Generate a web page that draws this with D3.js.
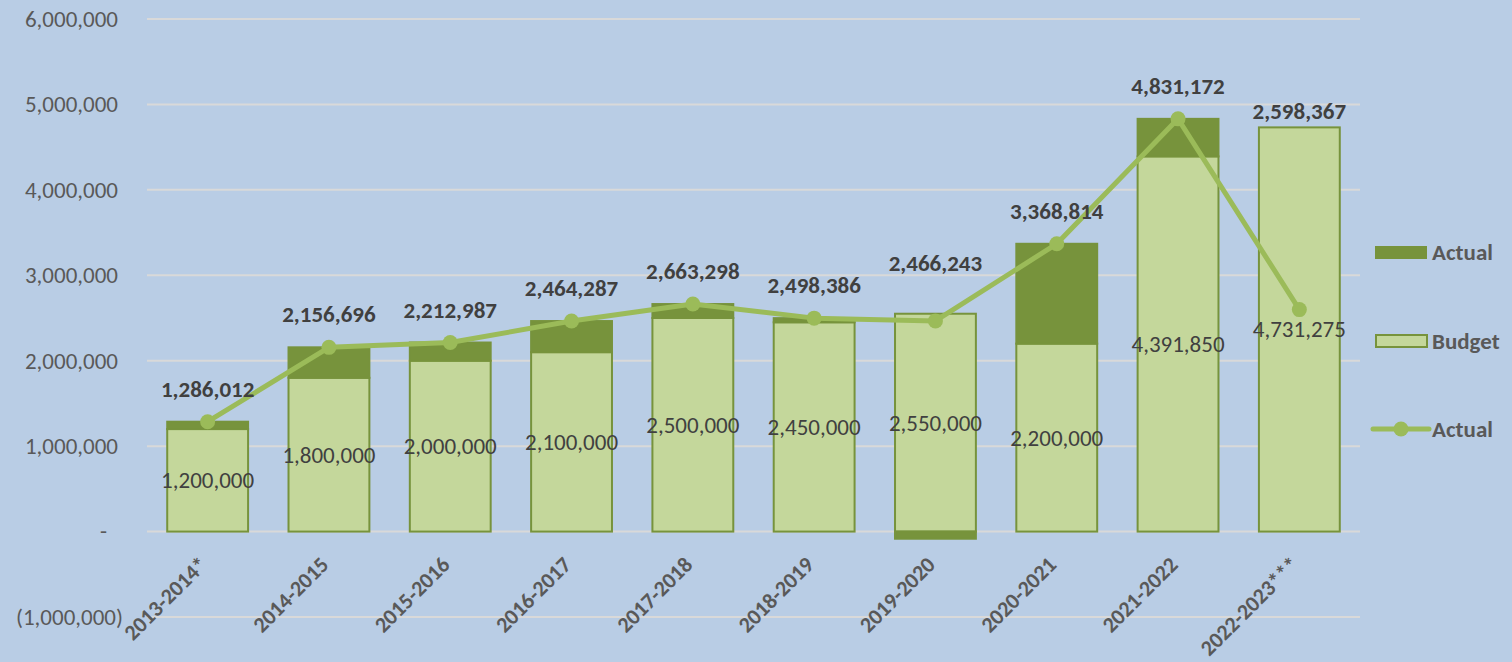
<!DOCTYPE html>
<meta charset="utf-8">

<!-- Load d3.js -->
<script src="https://d3js.org/d3.v7.min.js"></script>

<style>
  body { margin: 0; background: #b9cde5; }
  text { font-family: Carlito, Lato, "Open Sans", sans-serif; }
</style>

<svg id="chart" width="1512" height="662"></svg>
<script>

    // Data
    const years = ["2013-2014*", "2014-2015", "2015-2016", "2016-2017", "2017-2018",
                   "2018-2019", "2019-2020", "2020-2021", "2021-2022", "2022-2023***"];
    const budget = [1200000, 1800000, 2000000, 2100000, 2500000, 2450000, 2550000, 2200000, 4391850, 4731275];
    const actual = [1286012, 2156696, 2212987, 2464287, 2663298, 2498386, 2466243, 3368814, 4831172, 2598367];
    // stacked "Actual" bar segment = difference to budget (none shown for the partial year)
    const variance = [86012, 356696, 212987, 364287, 163298, 48386, -83757, 1168814, 439322, 0];
    const yTicks = [-1000000, 0, 1000000, 2000000, 3000000, 4000000, 5000000, 6000000];

    // label nudges (px above the line point), default 33
    const labelLift = { "2019-2020": 58 };
    const labelOnBarTop = { "2022-2023***": 16 };

    const svg = d3.select("#chart");

    const rows = years.map((y, i) => ({ year: y, budget: budget[i], actual: actual[i], variance: variance[i] }));

    // Scales
    const x = d3.scaleBand().domain(years).range([147, 1360]).paddingInner(1 / 3).paddingOuter(1 / 6);
    const y = d3.scaleLinear().domain([-1000000, 6000000]).range([617, 19]);

    const cx = d => x(d.year) + x.bandwidth() / 2;
    const fs = "23px";

    // gridlines
    svg.append("g")
      .selectAll("line")
      .data(yTicks)
      .join("line")
        .attr("x1", 147).attr("x2", 1360)
        .attr("y1", d => y(d)).attr("y2", d => y(d))
        .attr("stroke", "#d9d9d9")
        .attr("stroke-width", 2);

    // y axis labels
    const fmt = d3.format(",");
    const yAxis = svg.append("g")
      .attr("transform", "translate(126,0)")
      .call(d3.axisLeft(y).tickValues(yTicks).tickSize(0).tickPadding(8)
        .tickFormat(v => v === 0 ? "-" : v < 0 ? "(" + fmt(-v) + ")" : fmt(v)));
    yAxis.select(".domain").remove();
    yAxis.selectAll("text")
      .attr("fill", "#595959")
      .style("font-size", fs)
      .style("font-family", "Carlito, Lato, sans-serif")
      .attr("dx", v => v < 0 ? 5 : v === 0 ? -11 : 0);

    // budget bars
    svg.append("g")
      .selectAll("rect")
      .data(rows)
      .join("rect")
        .attr("x", d => x(d.year))
        .attr("width", x.bandwidth())
        .attr("y", d => y(d.budget))
        .attr("height", d => y(0) - y(d.budget))
        .attr("fill", "#c4d79b")
        .attr("stroke", "#77933c")
        .attr("stroke-width", 2);

    // actual (difference) bars
    svg.append("g")
      .selectAll("rect")
      .data(rows.filter(d => d.variance !== 0))
      .join("rect")
        .attr("x", d => x(d.year))
        .attr("width", x.bandwidth())
        .attr("y", d => d.variance > 0 ? y(d.budget + d.variance) : y(0))
        .attr("height", d => Math.abs(y(0) - y(d.variance)))
        .attr("fill", "#77933c")
        .attr("stroke", "#77933c")
        .attr("stroke-width", 2);

    // budget labels (centre of budget bar)
    svg.append("g")
      .selectAll("text")
      .data(rows)
      .join("text")
        .attr("x", cx)
        .attr("y", d => y(d.budget / 2))
        .attr("text-anchor", "middle")
        .attr("dominant-baseline", "central")
        .attr("fill", "#404040")
        .style("font-size", fs)
        .text(d => fmt(d.budget));

    // actual line
    const line = d3.line().x(cx).y(d => y(d.actual));
    svg.append("path")
      .datum(rows)
      .attr("d", line)
      .attr("fill", "none")
      .attr("stroke", "#9bbb59")
      .attr("stroke-width", 5)
      .attr("stroke-linejoin", "round");

    svg.append("g")
      .selectAll("circle")
      .data(rows)
      .join("circle")
        .attr("cx", cx)
        .attr("cy", d => y(d.actual))
        .attr("r", 7.5)
        .attr("fill", "#9bbb59");

    // actual value labels
    svg.append("g")
      .selectAll("text")
      .data(rows)
      .join("text")
        .attr("x", cx)
        .attr("y", d => d.year in labelOnBarTop
          ? y(d.budget + Math.max(d.variance, 0)) - labelOnBarTop[d.year]
          : y(d.actual) - (labelLift[d.year] || 33))
        .attr("text-anchor", "middle")
        .attr("dominant-baseline", "central")
        .attr("fill", "#404040")
        .attr("font-weight", "bold")
        .style("font-size", fs)
        .text(d => fmt(d.actual));

    // x axis labels (rotated)
    svg.append("g")
      .selectAll("text")
      .data(rows)
      .join("text")
        .attr("transform", d => `translate(${cx(d) + 1},566) rotate(-45)`)
        .attr("text-anchor", "end")
        .attr("fill", "#595959")
        .attr("font-weight", "bold")
        .style("font-size", "22px")
        .text(d => d.year);

    // legend
    const legend = svg.append("g").attr("transform", "translate(1375,0)");
    legend.append("rect").attr("x", 0).attr("y", 246).attr("width", 52).attr("height", 13)
      .attr("fill", "#77933c");
    legend.append("rect").attr("x", 1).attr("y", 335).attr("width", 51).attr("height", 12)
      .attr("fill", "#c4d79b").attr("stroke", "#77933c").attr("stroke-width", 2);
    legend.append("line").attr("x1", -2).attr("x2", 54).attr("y1", 429).attr("y2", 429)
      .attr("stroke", "#9bbb59").attr("stroke-width", 5).attr("stroke-linecap", "round");
    legend.append("circle").attr("cx", 26).attr("cy", 429).attr("r", 7.5).attr("fill", "#9bbb59");

    legend.selectAll("text.lg")
      .data([["Actual", 252], ["Budget", 341], ["Actual", 429]])
      .join("text")
        .attr("class", "lg")
        .attr("x", 57)
        .attr("y", d => d[1])
        .attr("dominant-baseline", "central")
        .attr("fill", "#595959")
        .attr("font-weight", "bold")
        .style("font-size", fs)
        .text(d => d[0]);

</script>
